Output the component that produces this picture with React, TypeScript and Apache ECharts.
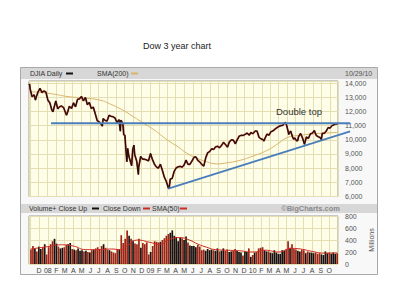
import React, { useEffect, useRef } from "react";
import * as echarts from "echarts";

// ---------- data ----------
const axisStart = "2007-10-29";
const axisEnd = "2010-10-29";
const endLabel = "10/29/10";

const priceDates = [
  "2007-10-29","2007-10-31","2007-11-02","2007-11-09","2007-11-16","2007-11-21","2007-11-23","2007-11-30",
  "2007-12-07","2007-12-14","2007-12-21","2007-12-28",
  "2008-01-04","2008-01-11","2008-01-18","2008-01-22","2008-01-25","2008-02-01","2008-02-08","2008-02-15","2008-02-22","2008-02-29",
  "2008-03-07","2008-03-10","2008-03-14","2008-03-20","2008-03-28","2008-04-04","2008-04-11","2008-04-18","2008-04-25",
  "2008-05-02","2008-05-09","2008-05-16","2008-05-23","2008-05-30","2008-06-06","2008-06-13","2008-06-20","2008-06-27",
  "2008-07-03","2008-07-11","2008-07-15","2008-07-18","2008-07-25","2008-08-01","2008-08-08","2008-08-15","2008-08-22","2008-08-29",
  "2008-09-05","2008-09-12","2008-09-17","2008-09-19","2008-09-26","2008-09-29","2008-10-03","2008-10-10","2008-10-13","2008-10-17",
  "2008-10-24","2008-10-27","2008-10-31","2008-11-04","2008-11-07","2008-11-14","2008-11-20","2008-11-21","2008-11-28",
  "2008-12-05","2008-12-12","2008-12-19","2008-12-26",
  "2009-01-02","2009-01-09","2009-01-16","2009-01-23","2009-01-30","2009-02-06","2009-02-13","2009-02-20","2009-02-27",
  "2009-03-06","2009-03-09","2009-03-13","2009-03-20","2009-03-27","2009-04-03","2009-04-09","2009-04-17","2009-04-24",
  "2009-05-01","2009-05-08","2009-05-15","2009-05-22","2009-05-29","2009-06-05","2009-06-12","2009-06-19","2009-06-26",
  "2009-07-02","2009-07-10","2009-07-17","2009-07-24","2009-07-31","2009-08-07","2009-08-14","2009-08-21","2009-08-28",
  "2009-09-04","2009-09-11","2009-09-18","2009-09-25","2009-10-02","2009-10-09","2009-10-16","2009-10-23","2009-10-30",
  "2009-11-06","2009-11-13","2009-11-20","2009-11-27","2009-12-04","2009-12-11","2009-12-18","2009-12-24","2009-12-31",
  "2010-01-08","2010-01-15","2010-01-22","2010-01-29","2010-02-05","2010-02-08","2010-02-12","2010-02-19","2010-02-26",
  "2010-03-05","2010-03-12","2010-03-19","2010-03-26","2010-04-01","2010-04-09","2010-04-16","2010-04-23","2010-04-26","2010-04-30",
  "2010-05-06","2010-05-07","2010-05-14","2010-05-21","2010-05-25","2010-05-28","2010-06-04","2010-06-08","2010-06-11","2010-06-18","2010-06-25",
  "2010-07-02","2010-07-09","2010-07-16","2010-07-23","2010-07-30","2010-08-06","2010-08-13","2010-08-20","2010-08-27","2010-08-31",
  "2010-09-03","2010-09-10","2010-09-17","2010-09-24","2010-10-01","2010-10-08","2010-10-15","2010-10-22","2010-10-29",
];
const priceCloses = [
  13870,13930,13595,13042,13176,12800,12981,13372,
  13625,13339,13451,13366,
  12800,12606,12099,11971,12207,12743,12182,12348,12381,12266,
  11894,11741,11951,12361,12216,12609,12325,12849,12891,
  13058,12745,12986,12480,12638,12209,12307,11842,11346,
  11288,11100,10963,11496,11370,11326,11734,11659,11628,11543,
  11220,11421,10610,11388,11143,10365,10325,8451,9387,8852,
  8378,8176,9325,9625,8943,8497,7552,8046,8829,
  8635,8629,8579,8515,
  9034,8599,8281,8077,8001,8280,7850,7366,7063,
  6627,6547,7224,7279,7776,8018,8083,8131,8076,
  8212,8575,8268,8277,8500,8764,8799,8539,8438,
  8280,8146,8743,9093,9171,9370,9321,9505,9544,
  9441,9605,9820,9665,9487,9865,9995,9972,9713,
  10023,10270,10318,10310,10388,10471,10329,10520,10428,
  10618,10610,10173,10067,10013,9908,10099,10403,10325,
  10567,10625,10742,10851,10927,10997,11019,11204,11205,11009,
  10520,10380,10620,10193,10043,10137,9931,9940,10212,10450,10144,
  9686,10198,10098,10425,10466,10654,10303,10213,10150,10015,
  10448,10462,10608,10861,10829,11006,11063,11133,11118,
];

const smaDates = [
  "2007-10-29","2007-12-15","2008-02-01","2008-03-15","2008-05-07","2008-07-07","2008-08-15","2008-09-16",
  "2008-10-20","2008-12-06","2009-01-15","2009-03-02","2009-04-10","2009-05-11","2009-06-16","2009-07-20",
  "2009-08-26","2009-10-01","2009-11-15","2009-12-31","2010-02-19","2010-04-01","2010-05-01","2010-06-16",
  "2010-08-26","2010-10-29",
];
const smaValues = [
  13400,13330,13200,13050,12950,12800,12500,12200,
  11800,11200,10700,10000,9500,9050,8700,8450,
  8300,8380,8550,8850,9250,9750,10150,10320,
  10450,10520,
];

// weekly volume (millions), weeks ending on Fridays from the first one below
const volumeFirstWeek = "2007-11-02";
const volumes = [
  240,300,260,210,290, 250,280,330,160,
  280,330,380,420, 340,290,260,270,280, 320,330,350,250, 240,230,260,220,
  230,210,220,200,190, 230,240,260,280, 250,300,330,270, 240,230,210,190,180,
  250,240,480,350, 420,560,470,420,390, 340,330,420,270, 350,330,360,160,
  200,300,380,370,360, 370,400,430,470, 500,520,560,470, 450,380,440,430,
  400,460,360,310,300, 300,280,320,290, 230,240,220,250,230, 240,230,220,260,
  210,220,260,220, 240,200,210,220,250, 220,200,190,140, 210,200,260,120,
  150,190,200,260,270, 280,230,210,210, 190,180,230,190, 170,170,230,220,240,
  380,270,330,250, 240,220,210,240, 230,180,210,190,190, 180,190,170,180,
  160,150,210,180, 190,170,190,170,180,
];

const volSmaDates = [
  "2007-11-01","2008-01-01","2008-02-15","2008-04-01","2008-05-15","2008-07-01","2008-08-15","2008-09-15",
  "2008-10-15","2008-11-15","2008-12-31","2009-02-01","2009-03-15","2009-04-15","2009-05-20","2009-06-20",
  "2009-07-20","2009-08-20","2009-10-01","2009-11-15","2010-01-01","2010-02-15","2010-04-01","2010-05-20",
  "2010-06-20","2010-08-01","2010-09-15","2010-10-29",
];
const volSmaValues = [
  250,290,320,300,240,240,250,240,
  320,400,360,330,420,440,400,330,
  280,240,230,220,200,230,200,260,
  250,210,180,185,
];

const monthLetters = ["J", "F", "M", "A", "M", "J", "J", "A", "S", "O", "N", "D"];

// hand-drawn annotations (in data units)
const necklineFrom = "2008-01-15";
const necklineTo = "2010-12-11";
const necklineValue = 11170;
const trendFrom: [string, number] = ["2009-03-06", 6560];
const trendTo: [string, number] = ["2010-12-11", 10600];

// ---------- helpers ----------
const d = (s: string) => {
  const [y, m, dd] = s.split("-").map(Number);
  return new Date(y, m - 1, dd).getTime();
};
const DAY = 86400000;

export default function App() {
  const ref = useRef<HTMLDivElement>(null);

  useEffect(() => {
    if (!ref.current) return;
    const chart = echarts.init(ref.current, undefined, { renderer: "svg" });

    const xMin = d(axisStart);
    const xMax = d(axisEnd);
    const priceTs = priceDates.map(d);
    const [fy, fm, fd] = volumeFirstWeek.split("-").map(Number);
    const volTs = volumes.map((_, i) => new Date(fy, fm - 1, fd + 7 * i).getTime());
    const closeAt = (t: number) => {
      let v = priceCloses[0];
      for (let i = 0; i < priceTs.length; i++) {
        if (priceTs[i] <= t) v = priceCloses[i];
        else break;
      }
      return v;
    };

    const font = "Liberation Sans, Arial, sans-serif";
    const gridLine = { show: true, lineStyle: { color: "#e4dfb3", width: 1 } };

    const xAxisBase = {
      type: "time" as const,
      min: xMin,
      max: xMax,
      splitNumber: 36,
      minInterval: 28 * DAY,
      maxInterval: 31 * DAY,
      axisLine: { show: false },
      axisTick: { show: false },
      splitLine: gridLine,
    };

    const option: any = {
      animation: false,
      backgroundColor: "#ffffff",
      grid: [
        {
          left: 29, right: 62, top: 81, height: 115.5,
          show: true, backgroundColor: "#fefee8", borderColor: "#9a9a9a", borderWidth: 1,
          outerBoundsMode: "none",
        },
        {
          left: 29, right: 62, top: 216, height: 48,
          show: true, backgroundColor: "#fefee8", borderColor: "#9a9a9a", borderWidth: 1,
          outerBoundsMode: "none",
        },
      ],
      xAxis: [
        { ...xAxisBase, gridIndex: 0, axisLabel: { show: false } },
        {
          ...xAxisBase,
          gridIndex: 1,
          axisLabel: {
            show: true,
            interval: 0,
            margin: 3,
            fontSize: 7,
            fontFamily: font,
            fontWeight: "normal",
            color: "#444",
            hideOverlap: false,
            formatter: (value: number) => {
              const dt = new Date(value);
              if (dt.getDate() !== 1) return "";
              if (value - xMin < 15 * DAY || value > xMax) return "";
              const m = dt.getMonth();
              return m === 0 ? String(dt.getFullYear()).slice(2) : monthLetters[m];
            },
          },
        },
      ],
      yAxis: [
        {
          type: "value", gridIndex: 0, position: "right",
          min: 6000, max: 14150, interval: 1000,
          axisLine: { show: false }, axisTick: { show: false },
          splitLine: gridLine,
          axisLabel: {
            margin: 7, fontSize: 7, fontFamily: font, color: "#555",
            formatter: (v: number) => (v % 1000 === 0 ? `${Math.floor(v / 1000)},000` : ""),
          },
        },
        {
          type: "value", gridIndex: 1, position: "right",
          min: 0, max: 800, interval: 200,
          axisLine: { show: false }, axisTick: { show: false },
          splitLine: gridLine,
          axisLabel: { margin: 7, fontSize: 7, fontFamily: font, color: "#555" },
        },
      ],
      series: [
        {
          type: "line", xAxisIndex: 0, yAxisIndex: 0, z: 3,
          data: smaDates.map((t, i) => [d(t), smaValues[i]]),
          smooth: true, symbol: "none",
          lineStyle: { color: "#d9b46c", width: 1 },
        },
        {
          type: "line", xAxisIndex: 0, yAxisIndex: 0, z: 4,
          data: priceTs.map((t, i) => [t, priceCloses[i]]),
          symbol: "none",
          lineStyle: { color: "#9a2418", width: 1.8 },
        },
        {
          type: "line", xAxisIndex: 0, yAxisIndex: 0, z: 5,
          data: priceTs.map((t, i) => [t, priceCloses[i]]),
          symbol: "none",
          lineStyle: { color: "#101010", width: 1 },
        },
        {
          type: "bar", xAxisIndex: 1, yAxisIndex: 1, z: 3,
          barWidth: 1.7,
          data: volumes.map((v, i) => {
            const up = closeAt(volTs[i]) >= closeAt(volTs[i] - 7 * DAY);
            return { value: [volTs[i], v], itemStyle: { color: up ? "#1a1010" : "#9e2418" } };
          }),
        },
        {
          type: "line", xAxisIndex: 1, yAxisIndex: 1, z: 4,
          data: volSmaDates.map((t, i) => [d(t), volSmaValues[i]]),
          smooth: true, symbol: "none",
          lineStyle: { color: "#cc2a22", width: 1 },
        },
      ],
    };

    chart.setOption(option);

    const toPx = (t: number, v: number) =>
      chart.convertToPixel({ xAxisIndex: 0, yAxisIndex: 0 } as any, [t, v]) as number[];
    const n1 = toPx(d(necklineFrom), necklineValue);
    const n2 = toPx(d(necklineTo), necklineValue);
    const t1 = toPx(d(trendFrom[0]), trendFrom[1]);
    const t2 = toPx(d(trendTo[0]), trendTo[1]);

    const smallText = (text: string, x: number, y: number, extra: any = {}) => ({
      type: "text", x, y, z: 10,
      style: { text, fill: "#333", font: `7px ${font}`, verticalAlign: "middle", ...extra },
    });
    const dash = (x1: number, x2: number, y: number, color: string) => ({
      type: "line", z: 10,
      shape: { x1, y1: y, x2, y2: y },
      style: { stroke: color, lineWidth: 2 },
    });

    chart.setOption({
      graphic: [
        {
          type: "rect", z: -10,
          shape: { x: 20.5, y: 67.5, width: 357, height: 207 },
          style: { fill: "#f8f8f8", stroke: "#a9a9a9", lineWidth: 1 },
        },
        { type: "rect", z: -9, shape: { x: 21, y: 68, width: 356, height: 11 }, style: { fill: "#d7d7d7" } },
        { type: "rect", z: -9, shape: { x: 21, y: 204, width: 356, height: 9 }, style: { fill: "#d7d7d7" } },
        smallText("DJIA Daily", 30, 73.5),
        dash(66, 73, 73.5, "#111"),
        smallText("SMA(200)", 97, 73.5),
        dash(131, 138, 73.5, "#d9b46c"),
        smallText(endLabel, 345, 73.5, { fill: "#555" }),
        smallText("Volume+ Close Up", 29, 208.5),
        dash(92, 99, 208.5, "#111"),
        smallText("Close Down", 103, 208.5),
        dash(143, 150, 208.5, "#cc2a22"),
        smallText("SMA(50)", 152, 208.5),
        dash(180, 187, 208.5, "#cc2a22"),
        smallText("\u00A9BigCharts.com", 340, 208, {
          align: "right", fill: "#8a8a8a", font: `bold 7.5px ${font}`,
        }),
        {
          type: "text", x: 371, y: 240, rotation: Math.PI / 2, z: 10,
          style: {
            text: "Millions", fill: "#555", font: `7px ${font}`,
            align: "center", verticalAlign: "middle",
          },
        },
        {
          type: "text", x: 143, y: 46, z: 10,
          style: { text: "Dow 3 year chart", fill: "#222", font: `9px ${font}`, verticalAlign: "middle" },
        },
        {
          type: "text", x: 276, y: 111, z: 20,
          style: { text: "Double top", fill: "#333", font: `9.5px ${font}`, verticalAlign: "middle" },
        },
        {
          type: "line", z: 20,
          shape: { x1: n1[0], y1: n1[1], x2: n2[0], y2: n2[1] },
          style: { stroke: "#4a7ebb", lineWidth: 1.8 },
        },
        {
          type: "line", z: 20,
          shape: { x1: t1[0], y1: t1[1], x2: t2[0], y2: t2[1] },
          style: { stroke: "#4a7ebb", lineWidth: 1.8 },
        },
      ],
    });

    return () => chart.dispose();
  }, []);

  return (
    <div
      ref={ref}
      style={{ position: "fixed", left: 0, top: 0, width: 400, height: 300, background: "#fff" }}
    />
  );
}
